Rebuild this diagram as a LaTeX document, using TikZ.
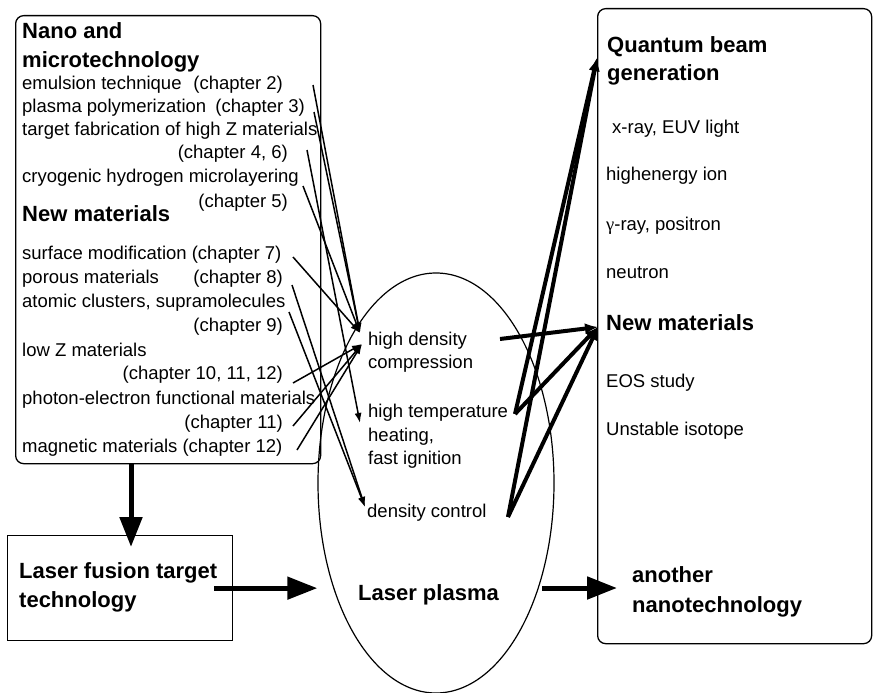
\documentclass[tikz,border=0pt]{standalone}
\usepackage{fontspec}
\setmainfont{Liberation Sans}
\newfontfamily\greekserif{Liberation Serif}
\usetikzlibrary{arrows.meta,calc,shapes.geometric}
\begin{document}
\begin{tikzpicture}[x=1pt,y=-1pt,
  txt/.style={font=\fontsize{18.5}{22}\selectfont, inner sep=0pt, anchor=base west},
  txtr/.style={font=\fontsize{18.5}{22}\selectfont, inner sep=0pt, anchor=base east},
  hdg/.style={font=\fontsize{22}{26}\selectfont\bfseries, inner sep=0pt, anchor=base west},
  boxline/.style={draw, line width=1.3pt, inner sep=0pt},
  thinarrow/.style={line width=1.5pt, -{Latex[length=10pt,width=7pt]}},
  thickarrow/.style={line width=4pt, -{Latex[length=13pt,width=11pt]}},
  bigarrow/.style={line width=5pt, -{Triangle[length=30pt,width=22pt]}}]
\useasboundingbox (0,0) rectangle (873,693);

% boxes and ellipse
\node[boxline, rounded corners=8pt, minimum width=305pt, minimum height=448pt, anchor=north west] (leftbox) at (15,15) {};
\node[boxline, minimum width=225pt, minimum height=105pt, anchor=north west] (fusion) at (7,535) {};
\node[boxline, rounded corners=8pt, minimum width=274pt, minimum height=635pt, anchor=north west] (rightbox) at (597,8) {};
\node[draw, ellipse, line width=1.2pt, minimum width=236pt, minimum height=420pt, inner sep=0pt] (plasma) at (436,483) {};

% left box texts
\node[hdg] (nano1) at (22,39) {Nano and};
\node[hdg] (nano2) at (22,67) {microtechnology};
\node[txt] (t1) at (22,89) {emulsion technique};
\node[txtr] (c1) at (283,89) {(chapter 2)};
\node[txt] (t2) at (22,112) {plasma polymerization};
\node[txtr] (c2) at (305,112) {(chapter 3)};
\node[txt] (t3) at (22,135) {target fabrication of high Z materials};
\node[txtr] (c4) at (288,158) {(chapter 4, 6)};
\node[txt] (t5) at (22,182) {cryogenic hydrogen microlayering};
\node[txtr] (c5) at (288,207) {(chapter 5)};
\node[hdg] (newmat) at (22,221) {New materials};
\node[txt] (t7) at (22,259) {surface modification (chapter 7)};
\node[txt] (t8) at (22,283) {porous materials};
\node[txtr] (c8) at (283,283) {(chapter 8)};
\node[txt] (t9) at (22,307) {atomic clusters, supramolecules};
\node[txtr] (c9) at (283,331) {(chapter 9)};
\node[txt] (t10) at (22,356) {low Z materials};
\node[txtr] (c10) at (283,379) {(chapter 10, 11, 12)};
\node[txt] (t11) at (22,404) {photon-electron functional materials};
\node[txtr] (c11) at (283,428) {(chapter 11)};
\node[txt] (t12) at (22,452) {magnetic materials (chapter 12)};

% middle texts
\node[txt] (hd1) at (368,345) {high density};
\node[txt] (hd2) at (368,368) {compression};
\node[txt] (ht1) at (368,417) {high temperature};
\node[txt] (ht2) at (368,441) {heating,};
\node[txt] (ht3) at (368,464) {fast ignition};
\node[txt] (dc) at (367,517) {density control};
\node[hdg] (lp) at (358,600) {Laser plasma};

% right box texts
\node[hdg] (qb1) at (607,53) {Quantum beam};
\node[hdg] (qb2) at (607,81) {generation};
\node[txt] (r1) at (612,133) {x-ray, EUV light};
\node[txt] (r2) at (606,180) {highenergy ion};
\node[txt] (r3) at (606,230) {{\greekserif γ}-ray, positron};
\node[txt] (r4) at (606,278) {neutron};
\node[hdg] (nm) at (606,330) {New materials};
\node[txt] (r5) at (606,387) {EOS study};
\node[txt] (r6) at (606,435) {Unstable isotope};
\node[hdg] (an1) at (632,582) {another};
\node[hdg] (an2) at (632,612) {nanotechnology};

% bottom-left box texts
\node[hdg] (lf1) at (19,578) {Laser fusion target};
\node[hdg] (lf2) at (19,607) {technology};

% tip points
\coordinate (tipU) at ($(hd1.base west)+(-8,-12)$);
\coordinate (tipL) at ($(hd1.base west)+(-6,-1)$);
\coordinate (tipT) at ($(ht1.base west)+(-8,6)$);
\coordinate (tipD) at ($(dc.base west)+(-2,-10)$);
\coordinate (tQB) at ($(qb1.base west)+(-10,5)$);
\coordinate (tNM) at ($(nm.base west)+(-8,-3)$);
\coordinate (sHD) at ($(hd1.base west)+(132,-6)$);
\coordinate (sHT) at ($(ht1.base west)+(147,-3)$);
\coordinate (sDC) at ($(dc.base west)+(141,0)$);

% thin arrows from left box
\draw[thinarrow] ($(c1.base east)+(30,-4)$) -- (tipU);
\draw[thinarrow] ($(c2.base east)+(9,0)$) -- (tipU);
\draw[thinarrow] ($(c4.base east)+(19,-8)$) -- (tipT);
\draw[thinarrow] ($(t5.base west)+(281,4)$) -- (tipU);
\draw[thinarrow] ($(t7.base west)+(271,-2)$) -- (tipU);
\draw[thinarrow] ($(c8.base east)+(9,2)$) -- (tipD);
\draw[thinarrow] ($(t9.base west)+(267,5)$) -- (tipD);
\draw[thinarrow] ($(c10.base east)+(10,4)$) -- (tipL);
\draw[thinarrow] ($(c11.base east)+(10,-2)$) -- (tipL);
\draw[thinarrow] ($(t12.base west)+(275,-2)$) -- (tipL);

% thick arrows to right box
\draw[thickarrow] (sHD) -- (tNM);
\draw[thickarrow] (sHT) -- (tQB);
\draw[thickarrow] (sHT) -- (tNM);
\draw[thickarrow] (sDC) -- (tQB);
\draw[thickarrow] (sDC) -- (tNM);

% big arrows
\draw[bigarrow] ($(leftbox.south west)+(116,0)$) -- ($(fusion.north west)+(124,12)$);
\draw[bigarrow] ($(fusion.east)+(-19,0)$) -- ($(fusion.east)+(84,0)$);
\draw[bigarrow] ($(plasma.center)+(106,105)$) -- ($(plasma.center)+(181,105)$);
\end{tikzpicture}
\end{document}
